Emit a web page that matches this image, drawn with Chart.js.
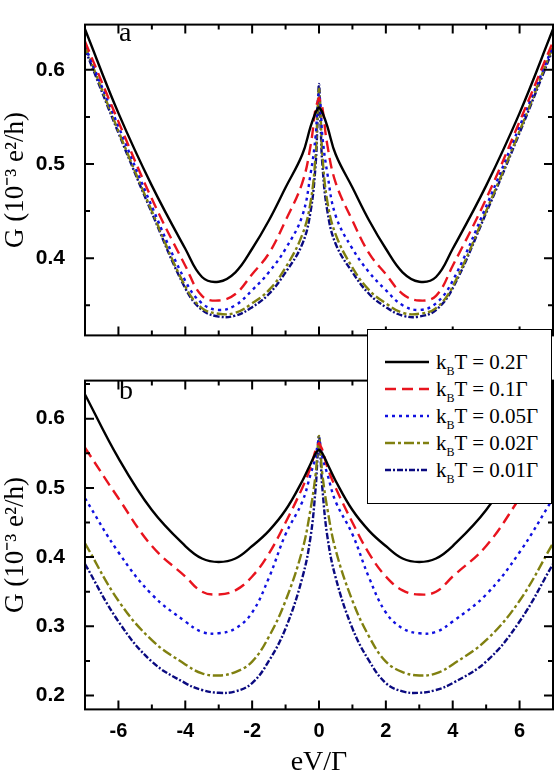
<!DOCTYPE html>
<html lang="en">
<head>
<meta charset="UTF-8">
<title>G vs eV</title>
<script src="https://cdn.jsdelivr.net/npm/chart.js"></script>
<style>
  body { margin: 0; background: #fff; width: 558px; height: 779px; position: relative; overflow: hidden; }
  canvas { position: absolute; left: 0; }
  .tag { position: absolute; font: 28px "Liberation Serif", serif; }
  #legend { position: absolute; left: 367px; top: 329px; width: 185px; height: 175px; border: 1px solid #000; background: #fff; box-sizing: border-box; }
  .row { position: absolute; left: 0; height: 24px; font: 21px "Liberation Serif", serif; }
  .row svg { position: absolute; left: 17px; top: 9px; }
  .row span { position: absolute; left: 68px; top: 0; white-space: nowrap; }
  sub { font-size: 12px; vertical-align: -6px; }
</style>
</head>
<body>
<canvas id="top" width="558" height="360" style="top:0"></canvas>
<canvas id="bot" width="558" height="423" style="top:356px"></canvas>
<div class="tag" style="left:119px;top:16px">a</div>
<div class="tag" style="left:119px;top:374px">b</div>
<div id="legend"></div>
<script>
// positive half of the bias axis (curves are symmetric in eV)
var xHalf = [0, 0.05, 0.1, 0.25, 0.5, 1, 1.5, 2, 2.5, 3, 3.5, 4, 5, 6, 7];

var labels = ['k<sub>B</sub>T = 0.2Γ', 'k<sub>B</sub>T = 0.1Γ', 'k<sub>B</sub>T = 0.05Γ', 'k<sub>B</sub>T = 0.02Γ', 'k<sub>B</sub>T = 0.01Γ'];
var colors = ['#000000', '#e8141e', '#1010e0', '#808010', '#0a0a80'];
var dashes = [[], [11, 6], [3, 4], [10, 3, 3, 3], [6, 2, 2, 2]];
var xTicks = [-6, -4, -2, 0, 2, 4, 6];

// panel a
var a02 = [.56, .558, .555, .54, .51, .475, .44, .41, .385, .375, .38, .41, .477, .554, .643];
var a01 = [.57, .565, .56, .52, .48, .44, .405, .383, .362, .355, .36, .392, .463, .545, .63];
var a005 = [.575, .56, .53, .49, .445, .41, .385, .366, .35, .345, .352, .376, .455, .54, .625];
var a002 = [.58, .55, .51, .46, .425, .39, .366, .352, .342, .341, .347, .37, .45, .535, .625];
var a001 = [.585, .54, .50, .45, .415, .385, .362, .348, .339, .338, .345, .368, .448, .533, .622];

// panel b
var b02 = [.555, .553, .55, .535, .51, .468, .438, .416, .398, .393, .398, .416, .468, .543, .635];
var b01 = [.565, .56, .555, .53, .50, .45, .405, .372, .352, .346, .35, .372, .416, .485, .558];
var b005 = [.57, .56, .545, .52, .48, .433, .37, .32, .297, .29, .292, .307, .346, .407, .485];
var b002 = [.575, .55, .52, .47, .41, .337, .285, .249, .234, .229, .232, .245, .28, .337, .42];
var b001 = [.575, .54, .50, .43, .37, .297, .25, .218, .206, .204, .208, .218, .249, .307, .39];

function mirror(ys) {
  var pts = [];
  for (var i = xHalf.length - 1; i > 0; i--) pts.push({x: -xHalf[i], y: ys[i]});
  for (var j = 0; j < xHalf.length; j++) pts.push({x: xHalf[j], y: ys[j]});
  return pts;
}

function sets(list) {
  return list.map(function (ys, i) {
    return { data: mirror(ys), borderColor: colors[i], borderDash: dashes[i], borderWidth: 2.4,
             pointRadius: 0, tension: 0.4, fill: false };
  });
}

// inward ticks on all four sides plus the frame
var frame = {
  id: 'frame',
  afterDraw: function (chart) {
    var c = chart.ctx, a = chart.chartArea, sx = chart.scales.x, sy = chart.scales.y;
    c.save();
    c.strokeStyle = '#000'; c.lineWidth = 2;
    c.strokeRect(a.left, a.top, a.right - a.left, a.bottom - a.top);
    for (var v = -7; v <= 7; v++) {
      var px = sx.getPixelForValue(v), len = (v % 2 === 0) ? 9 : 5;
      c.beginPath(); c.moveTo(px, a.bottom); c.lineTo(px, a.bottom - len);
      c.moveTo(px, a.top); c.lineTo(px, a.top + len); c.stroke();
    }
    for (var k = 0; k <= 20; k++) {
      var val = k * 0.05;
      if (val < sy.min || val > sy.max) continue;
      var py = sy.getPixelForValue(val), l2 = (k % 2 === 0) ? 9 : 5;
      c.beginPath(); c.moveTo(a.left, py); c.lineTo(a.left + l2, py);
      c.moveTo(a.right, py); c.lineTo(a.right - l2, py); c.stroke();
    }
    c.restore();
  }
};

function opts(ymin, ymax, showX, pad) {
  return {
    responsive: false, animation: false,
    layout: { padding: pad },
    plugins: { legend: { display: false }, tooltip: { enabled: false } },
    scales: {
      x: {
        type: 'linear', min: -7, max: 7, display: showX,
        grid: { display: false }, border: { display: false },
        afterBuildTicks: function (s) { s.ticks = xTicks.map(function (v) { return {value: v}; }); },
        ticks: { color: '#000', font: { family: 'Liberation Sans', size: 20, weight: 'bold' },
                 padding: 2, callback: function (v) { return v; } },
        title: { display: true, text: 'eV/Γ', color: '#000', padding: 0,
                 font: { family: 'Liberation Serif', size: 28 } }
      },
      y: {
        min: ymin, max: ymax,
        grid: { display: false }, border: { display: false },
        afterFit: function (s) { s.width = 85; },
        afterBuildTicks: function (s) {
          var t = [];
          for (var k = 1; k <= 6; k++) if (k / 10 >= s.min && k / 10 <= s.max) t.push({value: k / 10});
          s.ticks = t;
        },
        ticks: { color: '#000', font: { family: 'Liberation Sans', size: 21, weight: 'bold' }, padding: 12,
                 callback: function (v) { return v.toFixed(1); } },
        title: { display: true, text: 'G (10⁻³ e²/h)', color: '#000', padding: 0,
                 font: { family: 'Liberation Serif', size: 27 } }
      }
    }
  };
}

new Chart(document.getElementById('top'), {
  type: 'line',
  data: { datasets: sets([a02, a01, a005, a002, a001]) },
  options: opts(0.318, 0.648, false, { top: 4, right: 5, bottom: 2, left: 0 }),
  plugins: [frame]
});

new Chart(document.getElementById('bot'), {
  type: 'line',
  data: { datasets: sets([b02, b01, b005, b002, b001]) },
  options: opts(0.18, 0.655, true, { top: 2, right: 5, bottom: 0, left: 0 }),
  plugins: [frame]
});

// legend
var lg = document.getElementById('legend');
labels.forEach(function (txt, i) {
  var r = document.createElement('div');
  r.className = 'row';
  r.style.top = (20 + i * 27) + 'px';
  r.innerHTML = '<svg width="44" height="6"><line x1="0" y1="3" x2="44" y2="3" stroke="' + colors[i] +
    '" stroke-width="2.4" stroke-dasharray="' + (dashes[i].join(' ') || 'none') + '"/></svg><span>' + txt + '</span>';
  lg.appendChild(r);
});
</script>
</body>
</html>
